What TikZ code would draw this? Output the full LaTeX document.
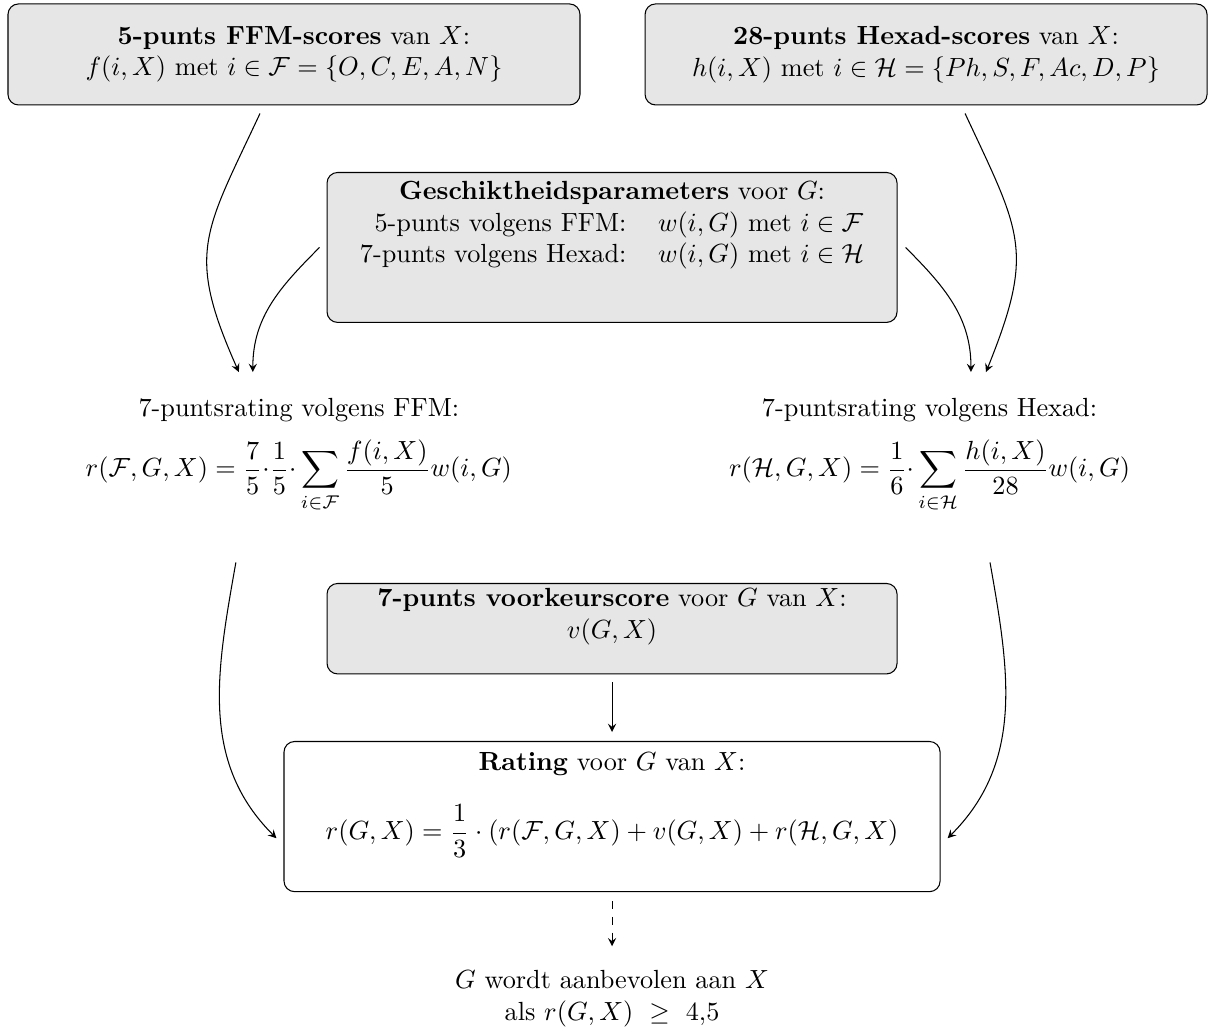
\documentclass[tikz,border=0pt]{standalone}
\usepackage{tikz}
\usetikzlibrary{arrows, positioning}
\definecolor{boxfill}{HTML}{E6E6E6}

\begin{document}
\begin{tikzpicture}[
  scorebox/.style={draw=black, fill=boxfill, rounded corners=4pt, align=center, inner ysep=2pt},
  flow/.style={-stealth, black}
]
  \useasboundingbox (0,0) rectangle (16.249,13.840);

  % Input scores
  \node[scorebox, minimum width=7.656cm, minimum height=1.352cm] (ffm) at (3.935,13.111)
    {\textbf{5-punts FFM-scores} van $X$:\\ $f(i,X)$ met $i\in\mathcal{F}=\{O,C,E,A,N\}$};
  \node[scorebox, minimum width=7.522cm, minimum height=1.352cm] (hexad) at (12.395,13.111)
    {\textbf{28-punts Hexad-scores} van $X$:\\ $h(i,X)$ met $i\in\mathcal{H}=\{Ph,S,F,Ac,D,P\}$};

  % Parameters
  \node[scorebox, anchor=north, minimum width=7.629cm, text depth=44.7pt] (param) at (8.192,11.538)
    {\begin{tabular}[t]{rl}
      \multicolumn{2}{c}{\textbf{Geschiktheidsparameters} voor $G$:}\\
      5-punts volgens FFM: & $w(i,G)$ met $i\in\mathcal{F}$\\
      7-punts volgens Hexad: & $w(i,G)$ met $i\in\mathcal{H}$
    \end{tabular}};

  % Partial ratings
  \node[anchor=north, align=center, inner sep=3pt] (frate) at (4.0,8.62)
    {7-puntsrating volgens FFM:\\[5.6pt]
     $\displaystyle r(\mathcal{F},G,X)=\frac{7}{5}{\cdot}\frac{1}{5}{\cdot}\sum_{i\in\mathcal{F}}\frac{f(i,X)}{5}w(i,G)$};
  \node[anchor=north, align=center, inner sep=3pt] (hrate) at (12.441,8.62)
    {7-puntsrating volgens Hexad:\\[5.6pt]
     $\displaystyle r(\mathcal{H},G,X)=\frac{1}{6}{\cdot}\sum_{i\in\mathcal{H}}\frac{h(i,X)}{28}w(i,G)$};

  % Preference and overall rating
  \node[scorebox, anchor=north, minimum width=7.629cm, text depth=11.5pt] (pref) at (8.192,6.037)
    {\textbf{7-punts voorkeurscore} voor $G$ van $X$:\\ $v(G,X)$};
  \node[draw=black, fill=white, rounded corners=4pt, align=center, inner ysep=4pt, anchor=north,
        minimum width=8.781cm, text depth=15.8pt] (rating) at (8.192,3.922)
    {\textbf{Rating} voor $G$ van $X$:\\[10.3pt]
     $\displaystyle r(G,X)=\frac{1}{3}\cdot(r(\mathcal{F},G,X)+v(G,X)+r(\mathcal{H},G,X)$};

  % Advice
  \node[anchor=north, align=center, inner sep=3pt] (advice) at (8.192,0.96)
    {$G$ wordt aanbevolen aan $X$\\ als $r(G,X)\ \geq\ 4{,}5$};

  % Connectors
  \draw[flow] ([xshift=-0.455cm,yshift=-0.107cm]ffm.south) to[out=245,in=114,looseness=1.3]
    ([xshift=-0.803cm,yshift=0.24cm]frate.north);
  \draw[flow] ([xshift=-0.094cm]param.west) to[out=225,in=90]
    ([xshift=-0.616cm,yshift=0.24cm]frate.north);
  \draw[flow] ([xshift=0.107cm]param.east) to[out=-45,in=90]
    ([xshift=0.555cm,yshift=0.24cm]hrate.north);
  \draw[flow] ([xshift=0.522cm,yshift=-0.107cm]hexad.south) to[out=-65,in=68,looseness=1.3]
    ([xshift=0.756cm,yshift=0.24cm]hrate.north);
  \draw[flow] ([xshift=-0.843cm,yshift=-0.56cm]frate.south) to[out=260,in=135]
    ([xshift=-0.094cm,yshift=-0.29cm]rating.west);
  \draw[flow] ([xshift=0.81cm,yshift=-0.56cm]hrate.south) to[out=-80,in=45]
    ([xshift=0.094cm,yshift=-0.29cm]rating.east);
  \draw[flow] ([yshift=-0.107cm]pref.south) -- ([yshift=0.12cm]rating.north);
  \draw[flow, dashed] ([yshift=-0.12cm]rating.south) -- ([yshift=0.214cm]advice.north);
\end{tikzpicture}
\end{document}
